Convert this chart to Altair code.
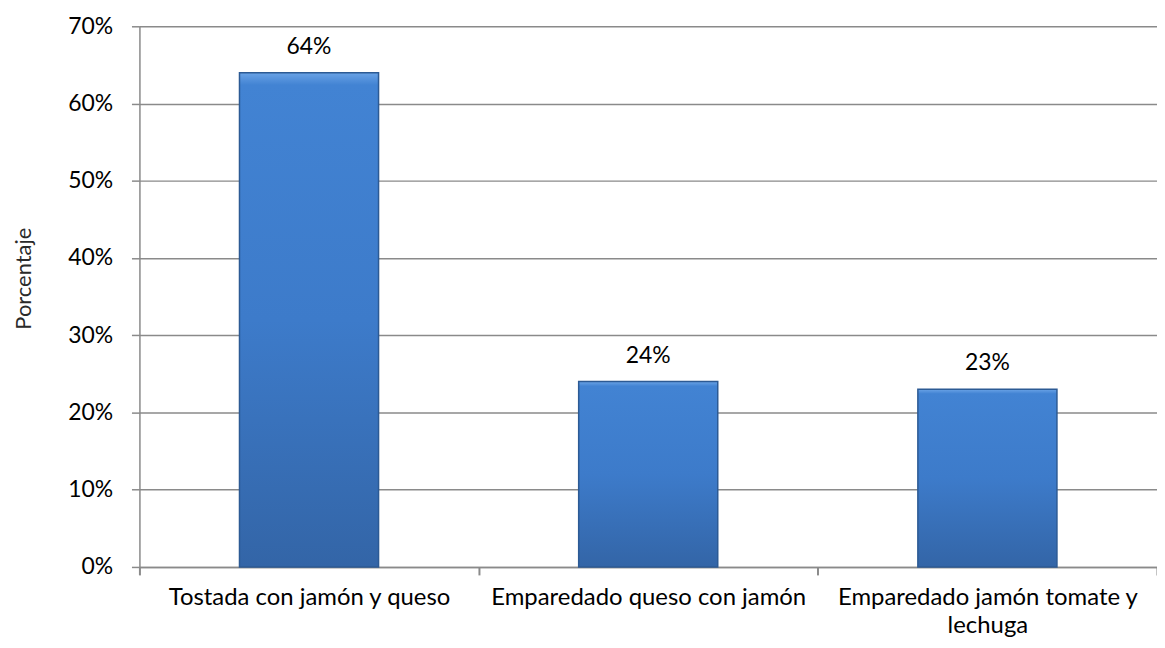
import altair as alt
import pandas as pd

categories = [
    "Tostada con jamón y queso",
    "Emparedado queso con jamón",
    "Emparedado jamón tomate y lechuga",
]
values = [0.64, 0.24, 0.23]
y_ticks = [0, 0.1, 0.2, 0.3, 0.4, 0.5, 0.6, 0.7]

df = pd.DataFrame({"categoria": categories, "porcentaje": values})

FONT = "Lato"
GRID = "#8a8a8a"

x_enc = alt.X(
    "categoria:N",
    sort=categories,
    scale=alt.Scale(paddingInner=0, paddingOuter=0),
    axis=alt.Axis(
        title=None,
        labelAngle=0,
        labelFont=FONT,
        labelFontSize=24,
        labelColor="#000000",
        labelPadding=11,
        labelLimit=450,
        labelLineHeight=28,
        labelBaseline="top",
        labelExpr="datum.value == 'Emparedado jamón tomate y lechuga' ? ['Emparedado jamón tomate y', 'lechuga'] : datum.value",
        tickBand="extent",
        ticks=True,
        tickSize=8,
        tickColor=GRID,
        tickWidth=2,
        domainColor=GRID,
        domainWidth=1.5,
        grid=False,
    ),
)

y_enc = alt.Y(
    "porcentaje:Q",
    scale=alt.Scale(domain=[0, 0.7], nice=False),
    axis=alt.Axis(
        title="Porcentaje",
        titleFont=FONT,
        titleFontSize=22,
        titleFontWeight="normal",
        titleColor="#2a2a2a",
        titleX=-116,
        titleY=253,
        titleAngle=-90,
        titleBaseline="middle",
        values=y_ticks,
        format=".0%",
        labelFont=FONT,
        labelFontSize=23,
        labelColor="#000000",
        labelPadding=19,
        tickSize=8,
        tickColor=GRID,
        tickWidth=1.5,
        domainColor=GRID,
        domainWidth=1.5,
        grid=True,
        gridColor=GRID,
        gridWidth=1.5,
    ),
)

gradient = {
    "gradient": "linear",
    "x1": 0, "y1": 0, "x2": 0, "y2": 1,
    "stops": [
        {"offset": 0.0, "color": "#6aa3e6"},
        {"offset": 0.025, "color": "#4283d3"},
        {"offset": 0.5, "color": "#3d7bca"},
        {"offset": 1.0, "color": "#3365a7"},
    ],
}

bars = alt.Chart(df).mark_bar(
    color=gradient,
    stroke="#2c5a94",
    strokeWidth=1.5,
    width=alt.RelativeBandSize(band=0.41),
).encode(x=x_enc, y=y_enc)

labels = alt.Chart(df).mark_text(
    font=FONT,
    fontSize=23,
    color="#000000",
    baseline="alphabetic",
    dy=-19,
).encode(
    x=alt.X("categoria:N", sort=categories),
    y=alt.Y("porcentaje:Q"),
    text=alt.Text("porcentaje:Q", format=".0%"),
)

chart = (
    alt.layer(bars, labels)
    .properties(
        width=1022,
        height=543,
        autosize=alt.AutoSizeParams(type="none"),
        padding={"left": 132, "top": 17, "right": 0, "bottom": 72},
        background="#ffffff",
    )
    .configure_view(stroke=None)
)

chart.save("out.html", embed_options={"renderer": "svg", "actions": False})
